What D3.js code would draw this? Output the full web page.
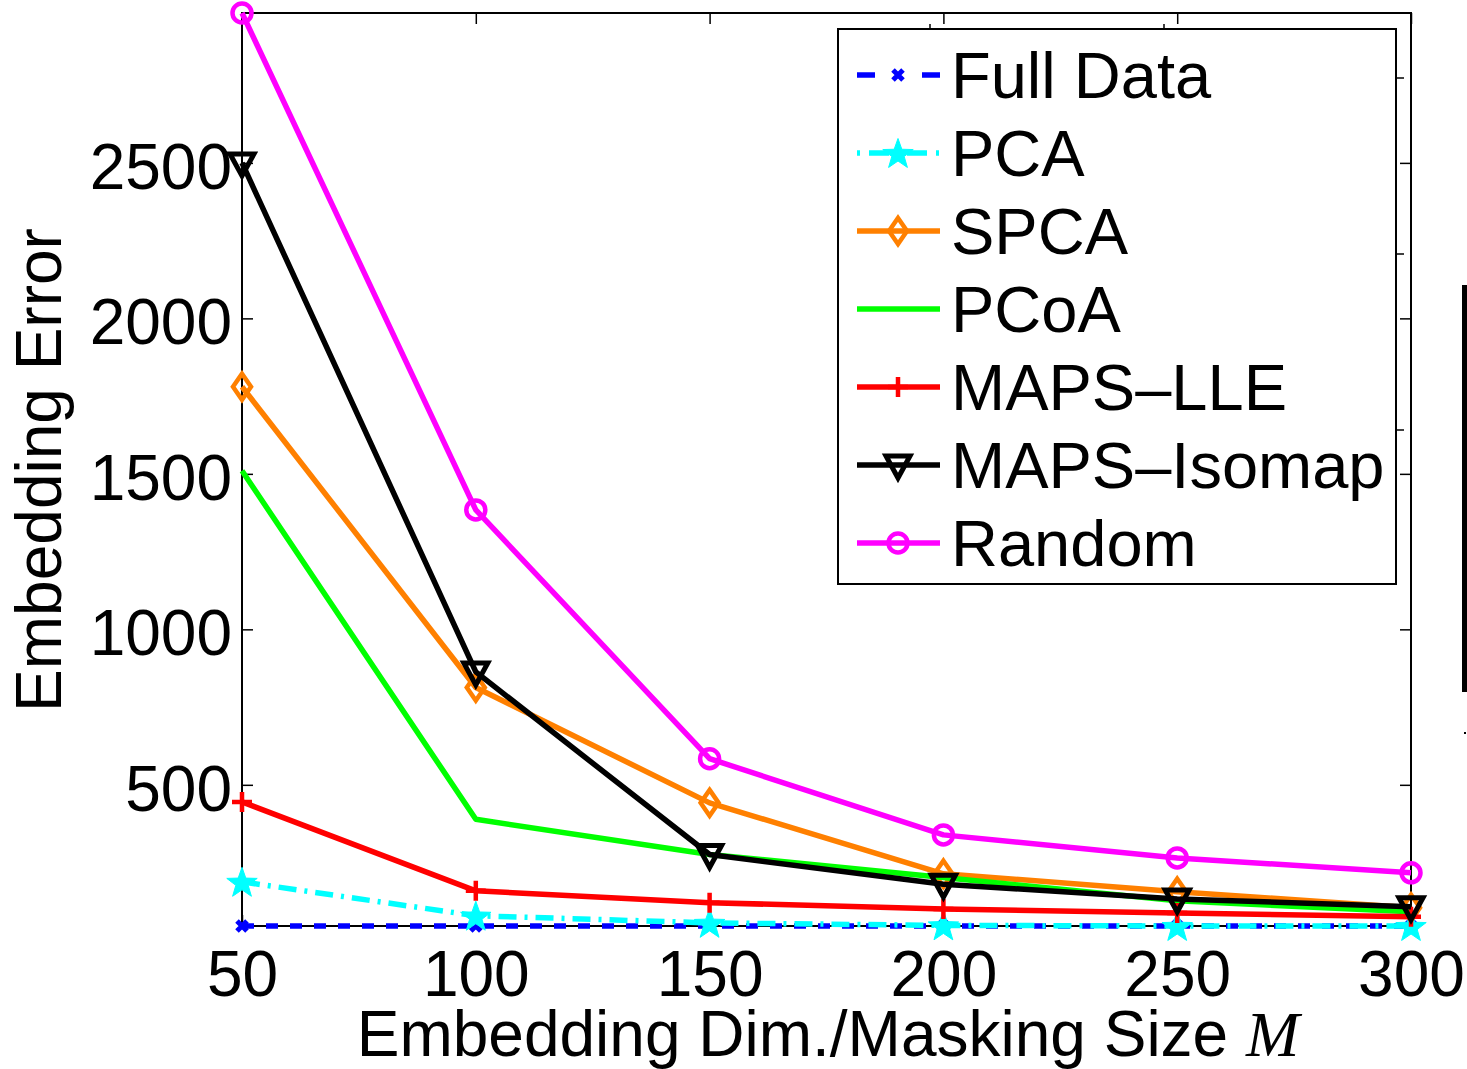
<!DOCTYPE html>
<html>
<head>
<meta charset="utf-8">
<script src="https://cdn.jsdelivr.net/npm/d3@7"></script>
<style>
  html, body { margin: 0; padding: 0; background: #fff; }
  svg { display: block; }
  text { font-family: "Liberation Sans", Arial, Helvetica, sans-serif; fill: #000; }
</style>
</head>
<body>
<svg id="chart" width="1467" height="1069"></svg>
<script>
// ---------------- data ----------------
const dims = [50, 100, 150, 200, 250, 300];
const seriesNames = ["Full Data", "PCA", "SPCA", "PCoA", "MAPS\u2013LLE", "MAPS\u2013Isomap", "Random"];
const fullData   = [46, 46, 46, 46, 46, 46];
const pca        = [188, 79, 56, 48, 46, 46];
const spca       = [1780, 813, 442, 214, 156, 105];
const pcoa       = [1510, 389, 276, 202, 127, 92];
const mapsLLE    = [445, 159, 121, 101, 88, 76];
const mapsIsomap = [2500, 863, 276, 180, 133, 108];
const randomSel  = [2982, 1384, 584, 339, 265, 217];
const xTicks = [50, 100, 150, 200, 250, 300];
const yTicks = [500, 1000, 1500, 2000, 2500];
const xLabel = "Embedding Dim./Masking Size ";
const xLabelVar = "M";
const yLabel = "Embedding Error";

// ---------------- styles ----------------
const seriesValues = [fullData, pca, spca, pcoa, mapsLLE, mapsIsomap, randomSel];
const colors  = ["#0000ff", "#00ffff", "#ff8000", "#00ff00", "#ff0000", "#000000", "#ff00ff"];
const markers = ["x", "star", "diamond", "none", "plus", "tridown", "circle"];
const dashes  = ["12,12", "18,8,3,8", null, null, null, null, null];
const legendDashes = ["18,47", "3,9,20,18,20,9,3", null, null, null, null, null];

const svg = d3.select("#chart");
svg.append("rect").attr("width", 1467).attr("height", 1069).attr("fill", "#fff");

const L = 242, R = 1411, T = 13, B = 926;
const allVals = seriesValues.flat();
const x = d3.scaleLinear().domain(d3.extent(dims)).range([L, R]);
const y = d3.scaleLinear().domain(d3.extent(allVals)).range([B, T]);

const FS = 64;

// axes box
const axes = svg.append("g");
axes.append("g").attr("transform", `translate(0,${B})`)
  .call(d3.axisBottom(x).tickValues(xTicks).tickSize(-11).tickPadding(25).tickFormat(d3.format("d")))
  .call(g => { g.select(".domain").remove(); g.selectAll("text").attr("font-size", FS).attr("font-family", "Liberation Sans, Arial, sans-serif"); });
axes.append("g").attr("transform", `translate(0,${T})`)
  .call(d3.axisTop(x).tickValues(xTicks).tickSize(-11).tickFormat(""))
  .call(g => g.select(".domain").remove());
axes.append("g").attr("transform", `translate(${L},0)`)
  .call(d3.axisLeft(y).tickValues(yTicks).tickSize(-11).tickPadding(10).tickFormat(d3.format("d")))
  .call(g => { g.select(".domain").remove(); g.selectAll("text").attr("font-size", FS).attr("dy", "0.4em").attr("font-family", "Liberation Sans, Arial, sans-serif"); });
axes.append("g").attr("transform", `translate(${R},0)`)
  .call(d3.axisRight(y).tickValues(yTicks).tickSize(-11).tickFormat(""))
  .call(g => g.select(".domain").remove());
axes.selectAll(".tick line").attr("stroke", "#000").attr("stroke-width", 1.5);
axes.append("rect").attr("x", L).attr("y", T).attr("width", R - L).attr("height", B - T)
  .attr("fill", "none").attr("stroke", "#000").attr("stroke-width", 2);

// marker drawing
function drawMarker(g, type, cx, cy, color) {
  const sw = 4.5;
  if (type === "x") {
    const s = 5;
    g.append("path").attr("d", `M${cx-s},${cy-s}L${cx+s},${cy+s}M${cx-s},${cy+s}L${cx+s},${cy-s}`)
      .attr("stroke", color).attr("stroke-width", 5).attr("fill", "none");
  } else if (type === "star") {
    const ro = 16, ri = 6.5;
    const pts = d3.range(10).map(i => {
      const a = -Math.PI / 2 + i * Math.PI / 5;
      const r = i % 2 === 0 ? ro : ri;
      return [cx + r * Math.cos(a), cy + r * Math.sin(a) + 1.5];
    });
    g.append("path").attr("d", "M" + pts.join("L") + "Z").attr("fill", color).attr("stroke", color).attr("stroke-width", 1);
  } else if (type === "diamond") {
    const hw = 9, hh = 13;
    g.append("path").attr("d", `M${cx},${cy-hh}L${cx+hw},${cy}L${cx},${cy+hh}L${cx-hw},${cy}Z`)
      .attr("fill", "none").attr("stroke", color).attr("stroke-width", sw);
  } else if (type === "plus") {
    const s = 10;
    g.append("path").attr("d", `M${cx-s},${cy}L${cx+s},${cy}M${cx},${cy-s}L${cx},${cy+s}`)
      .attr("stroke", color).attr("stroke-width", sw).attr("fill", "none");
  } else if (type === "tridown") {
    g.append("path").attr("d", `M${cx-12},${cy-9}L${cx+12},${cy-9}L${cx},${cy+13}Z`)
      .attr("fill", "none").attr("stroke", color).attr("stroke-width", 5).attr("stroke-linejoin", "miter");
  } else if (type === "circle") {
    g.append("circle").attr("cx", cx).attr("cy", cy).attr("r", 9.5)
      .attr("fill", "none").attr("stroke", color).attr("stroke-width", sw);
  }
}

// series
const line = d3.line().x((d, i) => x(dims[i])).y(d => y(d));
const plot = svg.append("g");
seriesValues.forEach((vals, k) => {
  const g = plot.append("g");
  g.append("path").datum(vals).attr("d", line)
    .attr("fill", "none").attr("stroke", colors[k]).attr("stroke-width", 5.5)
    .attr("stroke-linejoin", "round")
    .attr("stroke-dasharray", dashes[k]);
  if (markers[k] !== "none") {
    vals.forEach((v, i) => drawMarker(g, markers[k], x(dims[i]), y(v), colors[k]));
  }
});

// axis labels
svg.append("text").attr("transform", "translate(61,470) rotate(-90)")
  .attr("text-anchor", "middle").attr("font-size", 64).text(yLabel);
const xl = svg.append("text").attr("x", 828).attr("y", 1056).attr("text-anchor", "middle").attr("font-size", 64);
xl.append("tspan").text(xLabel);
xl.append("tspan").attr("font-family", "Liberation Serif, DejaVu Serif, serif").attr("font-style", "italic").text(xLabelVar);

// legend
const lg = svg.append("g");
lg.append("rect").attr("x", 838).attr("y", 29).attr("width", 558).attr("height", 555)
  .attr("fill", "#fff").attr("stroke", "#000").attr("stroke-width", 2);
seriesNames.forEach((name, k) => {
  const cy = 75 + k * 78;
  lg.append("line").attr("x1", 857).attr("x2", 940).attr("y1", cy).attr("y2", cy)
    .attr("stroke", colors[k]).attr("stroke-width", 5.5).attr("stroke-dasharray", legendDashes[k]);
  if (markers[k] !== "none") drawMarker(lg, markers[k], 898, cy, colors[k]);
  lg.append("text").attr("x", 951).attr("y", cy).attr("dy", "0.36em").attr("font-size", 65).text(name);
});
// stray tick marks from overlaid legend axes
[930, 1164].forEach(tx => lg.append("line").attr("x1", tx).attr("x2", tx).attr("y1", 24).attr("y2", 29).attr("stroke", "#000").attr("stroke-width", 1.5));
[78, 254, 430].forEach(ty => lg.append("line").attr("x1", 1396).attr("x2", 1404).attr("y1", ty).attr("y2", ty).attr("stroke", "#000").attr("stroke-width", 1.5));

// stray vertical bar at right edge
svg.append("rect").attr("x", 1462).attr("y", 285).attr("width", 5).attr("height", 407).attr("fill", "#000");
svg.append("rect").attr("x", 1464).attr("y", 732).attr("width", 2).attr("height", 2).attr("fill", "#000");
</script>
</body>
</html>
